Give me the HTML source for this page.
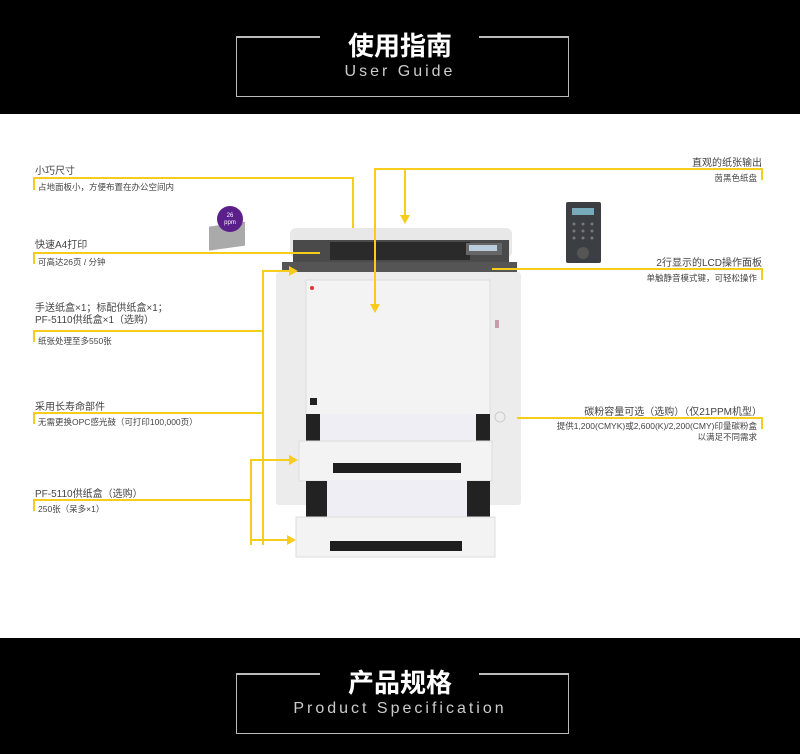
<!DOCTYPE html>
<html><head><meta charset="utf-8"><style>
body{margin:0;width:800px;height:754px;background:#fff;position:relative;overflow:hidden;font-family:"Liberation Sans","Noto Sans CJK SC",sans-serif}
.band{position:absolute;left:0;width:800px;background:#000}
.box{position:absolute;left:236px;width:331px;height:60px;border:1.5px solid #bbb;border-top:none}
.bt{position:absolute;height:1.5px;background:#bbb}
.t1{position:absolute;left:0;width:800px;text-align:center;color:#fff;font-weight:bold;font-size:26px}
.t2{position:absolute;left:0;width:800px;text-align:center;color:#ccc;font-size:16px;letter-spacing:3px}
.l{position:absolute;font-size:10px;color:#444;white-space:nowrap}
.s{position:absolute;font-size:8.5px;color:#444;white-space:nowrap}
.r{text-align:right}
</style></head><body>
<div class="band" style="top:0;height:114px"></div>
<div class="box" style="top:36px"></div>
<div class="bt" style="top:36px;left:236px;width:84px"></div>
<div class="bt" style="top:36px;left:479px;width:89px"></div>
<div class="t1" style="top:26px">使用指南</div>
<div class="t2" style="top:63px">User Guide</div>

<div class="band" style="top:638px;height:116px"></div>
<div class="box" style="top:673px"></div>
<div class="bt" style="top:673px;left:236px;width:84px"></div>
<div class="bt" style="top:673px;left:479px;width:89px"></div>
<div class="t1" style="top:663px">产品规格</div>
<div class="t2" style="top:700px">Product Specification</div>

<svg width="800" height="754" style="position:absolute;left:0;top:0">
<!-- printer -->
<rect x="290" y="228" width="222" height="30" rx="6" fill="#e8e8e8"/>
<rect x="293" y="240" width="216" height="22" fill="#4a4a4a"/>
<rect x="330" y="242" width="140" height="18" fill="#2a2a2a"/>
<rect x="466" y="243" width="36" height="12" fill="#666"/>
<rect x="469" y="245" width="28" height="6" fill="#bcd"/>
<rect x="282" y="262" width="235" height="10" fill="#555"/>
<rect x="276" y="272" width="245" height="233" rx="3" fill="#ececec"/>
<rect x="306" y="280" width="184" height="135" fill="#f3f3f3" stroke="#ddd"/>
<circle cx="312" cy="288" r="2" fill="#d33"/>
<rect x="310" y="398" width="7" height="7" fill="#222"/>
<rect x="495" y="320" width="4" height="8" fill="#c9a"/>
<circle cx="500" cy="417" r="5" fill="none" stroke="#ccc"/>
<rect x="306" y="414" width="184" height="36" fill="#222"/>
<rect x="320" y="414" width="156" height="38" fill="#eeeef4"/>
<rect x="299" y="441" width="193" height="40" fill="#f3f3f3" stroke="#ddd"/>
<rect x="333" y="463" width="128" height="10" fill="#1e1e1e"/>
<rect x="306" y="481" width="184" height="40" fill="#222"/>
<rect x="327" y="480" width="140" height="38" fill="#eeeef4"/>
<rect x="296" y="517" width="199" height="40" fill="#f3f3f3" stroke="#ddd"/>
<rect x="330" y="541" width="132" height="10" fill="#1e1e1e"/>
<!-- paper stack icon -->
<rect x="209" y="224" width="36" height="24" fill="#aaa" transform="skewY(-8) translate(0,32)"/>
<circle cx="230" cy="219" r="13" fill="#5b1f8c"/>
<text x="230" y="217" font-size="6" fill="#fff" text-anchor="middle">26</text>
<text x="230" y="224" font-size="6" fill="#fff" text-anchor="middle">ppm</text>
<!-- keypad -->
<rect x="566" y="202" width="35" height="61" rx="2" fill="#3b3f44"/>
<rect x="572" y="208" width="22" height="7" fill="#7ab"/>
<g fill="#777"><circle cx="574" cy="224" r="1.5"/><circle cx="583" cy="224" r="1.5"/><circle cx="592" cy="224" r="1.5"/><circle cx="574" cy="231" r="1.5"/><circle cx="583" cy="231" r="1.5"/><circle cx="592" cy="231" r="1.5"/><circle cx="574" cy="238" r="1.5"/><circle cx="583" cy="238" r="1.5"/><circle cx="592" cy="238" r="1.5"/></g>
<circle cx="583" cy="253" r="6" fill="#555"/>
<!-- yellow lines -->
<g stroke="#f8cc1c" stroke-width="2" fill="none">
<path d="M34 190V178H353V228"/>
<path d="M34 264V253H320"/>
<path d="M34 342V331H263"/>
<path d="M34 424V413H263"/>
<path d="M34 511V500H251"/>
<path d="M263 545V271H290"/>
<path d="M251 545V460H290"/>
<path d="M251 540H290"/>
<path d="M762 180V169H375V305"/>
<path d="M405 169V220"/>
<path d="M762 280V269H492"/>
<path d="M762 429V418H517"/>
</g>
<g fill="#f8cc1c">
<path d="M298 271l-9-5v10z"/><path d="M298 460l-9-5v10z"/><path d="M296 540l-9-5v10z"/>
<path d="M375 313l-5-9h10z"/><path d="M405 224l-5-9h10z"/>
</g>
</svg>

<div class="l" style="left:35px;top:162px">小巧尺寸</div>
<div class="s" style="left:38px;top:181px">占地面板小，方便布置在办公空间内</div>
<div class="l" style="left:35px;top:236px">快速A4打印</div>
<div class="s" style="left:38px;top:256px">可高达26页 / 分钟</div>
<div class="l" style="left:35px;top:303px;line-height:12px">手送纸盒×1；标配供纸盒×1；<br>PF-5110供纸盒×1（选购）</div>
<div class="s" style="left:38px;top:335px">纸张处理至多550张</div>
<div class="l" style="left:35px;top:398px">采用长寿命部件</div>
<div class="s" style="left:38px;top:416px">无需更换OPC感光鼓（可打印100,000页）</div>
<div class="l" style="left:35px;top:485px">PF-5110供纸盒（选购）</div>
<div class="s" style="left:38px;top:503px">250张（呆多×1）</div>

<div class="l r" style="right:38px;top:154px">直观的纸张输出</div>
<div class="s r" style="right:43px;top:172px">茵黑色纸盘</div>
<div class="l r" style="right:38px;top:254px">2行显示的LCD操作面板</div>
<div class="s r" style="right:43px;top:272px">单触静音模式键，可轻松操作</div>
<div class="l r" style="right:38px;top:403px">碳粉容量可选（选购）（仅21PPM机型）</div>
<div class="s r" style="right:43px;top:421px;line-height:11px">提供1,200(CMYK)或2,600(K)/2,200(CMY)印量碳粉盒<br>以满足不同需求</div>
</body></html>
